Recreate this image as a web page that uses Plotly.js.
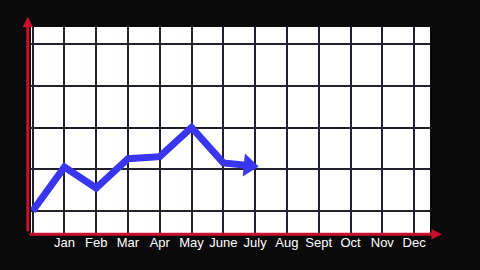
<!DOCTYPE html>
<html><head><meta charset="utf-8">
<script src="https://cdn.plot.ly/plotly-3.0.1.min.js"></script>
<style>html,body{margin:0;padding:0;background:#0a0a0a;}#chart{width:480px;height:270px;}</style>
</head><body><div id="chart"></div>
<script>
const months = ['Jan','Feb','Mar','Apr','May','June','July','Aug','Sept','Oct','Nov','Dec'];
const monthPos = [1,2,3,4,5,6,7,8,9,10,11,12];
const lineX = [0, 1, 2, 3, 4, 5, 6, 6.8];
const lineY = [1.0, 2.05, 1.55, 2.25, 2.3, 3.0, 2.15, 2.09];

const symbols = lineX.map((_, i) => i === lineX.length - 1 ? 'triangle-up' : 'circle');
const sizes = lineX.map((_, i) => i === lineX.length - 1 ? 20 : 0);

const trace = {
  x: lineX, y: lineY, type: 'scatter', mode: 'lines+markers',
  line: {color: '#3a35ee', width: 7},
  marker: {symbol: symbols, size: sizes, color: '#3a35ee', opacity: 1, angleref: 'previous',
           line: {width: 0}},
  hoverinfo: 'skip'
};

const red = '#c8102e';
const layout = {
  width: 480, height: 270,
  paper_bgcolor: '#0a0a0a', plot_bgcolor: '#ffffff',
  margin: {l: 31, r: 50, t: 27, b: 37},
  showlegend: false,
  xaxis: {
    range: [-0.05, 12.5], tickvals: [0].concat(monthPos), ticktext: [''].concat(months),
    showgrid: true, gridcolor: '#22222e', gridwidth: 2, zeroline: false,
    showline: false, ticks: '', tickfont: {color: '#ffffff', size: 13, family: 'Liberation Sans, Arial, sans-serif'},
    fixedrange: true
  },
  yaxis: {
    range: [0.47, 5.41], tickvals: [1,2,3,4,5], showticklabels: false,
    showgrid: true, gridcolor: '#22222e', gridwidth: 2, zeroline: false,
    showline: false, ticks: '', fixedrange: true
  },
  annotations: [
    {xref: 'paper', yref: 'paper', x: -0.008, y: 1.05, ax: 0, ay: 216, axref: 'pixel', ayref: 'pixel',
     showarrow: true, arrowhead: 2, arrowsize: 0.7, arrowwidth: 3, arrowcolor: red, text: ''},
    {xref: 'paper', yref: 'paper', x: 1.03, y: -0.006, ax: -414, ay: 0, axref: 'pixel', ayref: 'pixel',
     showarrow: true, arrowhead: 2, arrowsize: 0.7, arrowwidth: 3, arrowcolor: red, text: ''}
  ]
};
Plotly.newPlot('chart', [trace], layout, {displayModeBar: false, staticPlot: true});
</script></body></html>
